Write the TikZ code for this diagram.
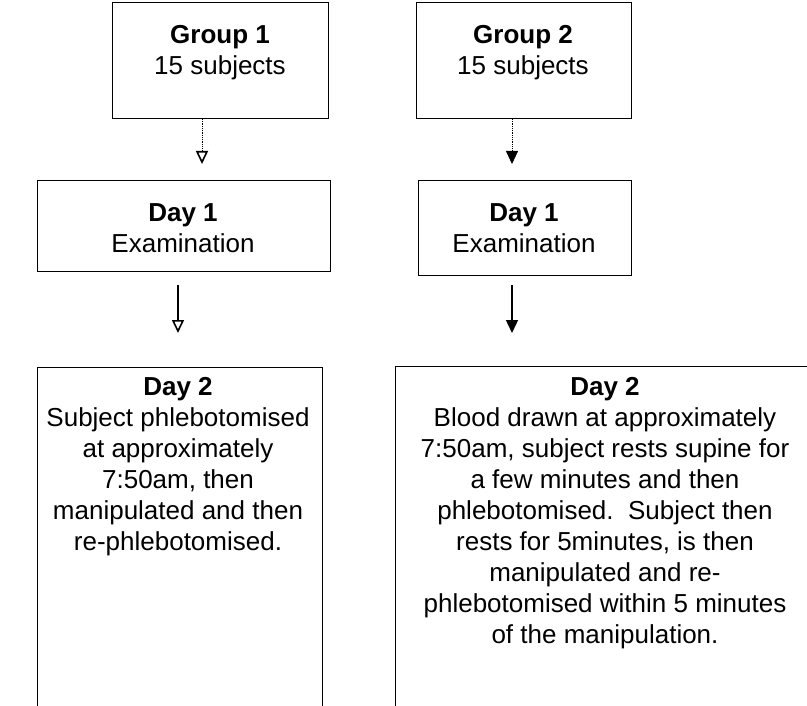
\documentclass[tikz,border=0pt]{standalone}
\usepackage{fontspec}
\setmainfont{Liberation Sans}
\usetikzlibrary{arrows.meta}
\begin{document}
\begin{tikzpicture}[x=1pt,y=-1pt,
  box/.style={draw, line width=1.4pt, inner sep=0pt, anchor=north west},
  txt/.style={anchor=north, align=center, inner sep=0pt, font=\fontsize{26}{31}\selectfont},
  dotarrow/.style={densely dotted, line width=0.8pt},
  solidarrow/.style={line width=1.4pt},
  openhead/.style={-{Triangle[open, length=13pt, width=12pt, line width=1.6pt]}},
  fullhead/.style={-{Triangle[length=13pt, width=12pt]}}]
\useasboundingbox (0,0) rectangle (807,706);
\clip (0,0) rectangle (807,706);

% boxes
\node[box, minimum width=216pt, minimum height=116pt] (g1) at (112,2) {};
\node[box, minimum width=215pt, minimum height=116pt] (g2) at (416,2) {};
\node[box, minimum width=293pt, minimum height=91pt] (d1l) at (37,180) {};
\node[box, minimum width=213pt, minimum height=95pt] (d1r) at (418,180) {};
\node[box, minimum width=285pt, minimum height=400pt] (d2l) at (37,367) {};
\node[box, minimum width=450pt, minimum height=400pt] (d2r) at (395,366) {};

% texts
\node[txt] (t1) at (220,25) {\textbf{Group 1}\\15 subjects};
\node[txt] (t2) at (523,25) {\textbf{Group 2}\\15 subjects};
\node[txt] (t3) at (183,203) {\textbf{Day 1}\\Examination};
\node[txt] (t4) at (524,203) {\textbf{Day 1}\\Examination};
\node[txt] (t5) at (178,377) {\textbf{Day 2}\\Subject phlebotomised\\at approximately\\7:50am, then\\manipulated and then\\re-phlebotomised.};
\node[txt] (t6) at (605,377) {\textbf{Day 2}\\Blood drawn at approximately\\7:50am, subject rests supine for\\a few minutes and then\\phlebotomised.\ \ Subject then\\rests for 5minutes, is then\\manipulated and re-\\phlebotomised within 5 minutes\\of the manipulation.};

% connector ends
\coordinate (a1s) at (202,119);
\coordinate (a1e) at (202,164);
\coordinate (a2s) at (512,119);
\coordinate (a2e) at (512,164);
\coordinate (a3s) at (178,285);
\coordinate (a3e) at (178,333);
\coordinate (a4s) at (512,285);
\coordinate (a4e) at (512,333);

\draw[dotarrow, openhead] (a1s) -- (a1e);
\draw[dotarrow, fullhead] (a2s) -- (a2e);
\draw[solidarrow, openhead] (a3s) -- (a3e);
\draw[solidarrow, fullhead] (a4s) -- (a4e);
\end{tikzpicture}
\end{document}
